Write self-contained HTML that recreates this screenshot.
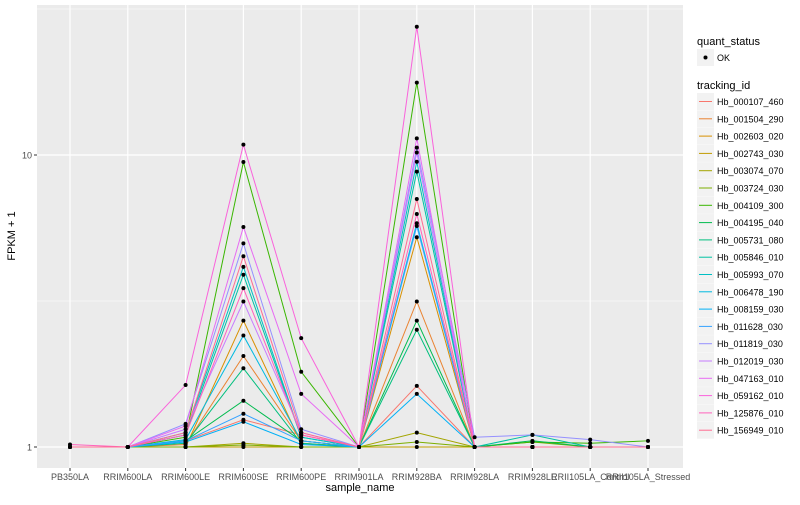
<!DOCTYPE html>
<html><head><meta charset="utf-8"><style>
body{margin:0;background:#fff;font-family:"Liberation Sans",sans-serif;}
svg text{font-family:"Liberation Sans",sans-serif;}
</style></head><body>
<svg id="chart" width="800" height="500" xmlns="http://www.w3.org/2000/svg"></svg>
<script>
const categories=["PB350LA","RRIM600LA","RRIM600LE","RRIM600SE","RRIM600PE","RRIM901LA","RRIM928BA","RRIM928LA","RRIM928LE","RRII105LA_Control","RRII105LA_Stressed"];
const seriesNames=["Hb_000107_460","Hb_001504_290","Hb_002603_020","Hb_002743_030","Hb_003074_070","Hb_003724_030","Hb_004109_300","Hb_004195_040","Hb_005731_080","Hb_005846_010","Hb_005993_070","Hb_006478_190","Hb_008159_030","Hb_011628_030","Hb_011819_030","Hb_012019_030","Hb_047163_010","Hb_059162_010","Hb_125876_010","Hb_156949_010"];
const seriesColors=["#F8766D","#EA8331","#D89000","#C09B00","#A3A500","#7CAE00","#39B600","#00BB4E","#00BF7D","#00C1A3","#00BFC4","#00BAE0","#00B0F6","#35A2FF","#9590FF","#C77CFF","#E76BF3","#FA62DB","#FF62BC","#FF6C91"];
const s000107=[1.0,1.0,1.05,1.24,1.1,1.0,1.62,1.0,1.0,1.0,1.0];
const s001504=[1.0,1.0,1.02,2.05,1.05,1.0,3.15,1.0,1.0,1.0,1.0];
const s002603=[1.0,1.0,1.0,2.71,1.03,1.0,5.23,1.0,1.0,1.0,1.0];
const s002743=[1.0,1.0,1.0,1.0,1.0,1.0,1.0,1.0,1.0,1.0,1.0];
const s003074=[1.0,1.0,1.0,1.03,1.0,1.0,1.12,1.0,1.0,1.0,1.0];
const s003724=[1.0,1.0,1.0,1.016,1.0,1.0,1.04,1.0,1.04,1.0,1.0];
const s004109=[1.0,1.0,1.08,9.46,1.81,1.0,17.7,1.0,1.04,1.03,1.05];
const s004195=[1.0,1.0,1.05,1.44,1.05,1.0,2.71,1.0,1.05,1.0,1.0];
const s005731=[1.0,1.0,1.03,1.86,1.03,1.0,2.52,1.0,1.0,1.0,1.0];
const s005846=[1.0,1.0,1.1,3.89,1.08,1.0,8.77,1.0,1.1,1.0,1.0];
const s005993=[1.0,1.0,1.12,4.14,1.08,1.0,9.48,1.0,1.0,1.0,1.0];
const s006478=[1.0,1.0,1.06,2.41,1.05,1.0,5.84,1.0,1.0,1.0,1.0];
const s008159=[1.0,1.0,1.04,1.22,1.02,1.0,1.52,1.0,1.0,1.0,1.0];
const s011628=[1.0,1.0,1.05,1.3,1.05,1.0,5.71,1.0,1.0,1.0,1.0];
const s011819=[1.0,1.0,1.2,4.98,1.15,1.0,10.6,1.08,1.1,1.06,1.0];
const s012019=[1.0,1.0,1.15,3.15,1.12,1.0,10.2,1.0,1.0,1.0,1.0];
const s047163=[1.0,1.0,1.18,5.67,1.52,1.0,11.4,1.0,1.0,1.0,1.0];
const s059162=[1.0,1.0,1.63,10.85,2.36,1.0,27.5,1.0,1.0,1.0,1.0];
const s125876=[1.02,1.0,1.1,3.5,1.1,1.0,6.28,1.0,1.0,1.0,1.0];
const s156949=[1.0,1.0,1.12,4.5,1.12,1.0,7.07,1.0,1.0,1.0,1.0];
const seriesValues=[s000107,s001504,s002603,s002743,s003074,s003724,s004109,s004195,s005731,s005846,s005993,s006478,s008159,s011628,s011819,s012019,s047163,s059162,s125876,s156949];
const yTickValues=[1,10];
const yTickLabels=["1","10"];

const NS="http://www.w3.org/2000/svg";
const svg=document.getElementById('chart');
const P={l:37,r:683,t:5,b:468};
function xScale(i){return 70+i*57.8;}
function yScale(v){return 447-Math.log10(v)*292;}
function el(tag,attrs,parent){const e=document.createElementNS(NS,tag);for(const k in attrs)e.setAttribute(k,attrs[k]);(parent||svg).appendChild(e);return e;}

const panel=el('rect',{x:P.l,y:P.t,width:P.r-P.l,height:P.b-P.t,fill:'#EBEBEB'});


// minor grid
[Math.sqrt(10),Math.sqrt(10)*10].forEach(v=>{const g=el('line',{x1:P.l,x2:P.r,y1:yScale(v),y2:yScale(v),stroke:'#fff','stroke-width':0.6});

});
yTickValues.forEach((v,i)=>{const y=yScale(v);
const g=el('line',{x1:P.l,x2:P.r,y1:y,y2:y,stroke:'#fff','stroke-width':1.2});


el('line',{x1:P.l-3,x2:P.l,y1:y,y2:y,stroke:'#333','stroke-width':1});
const t=el('text',{x:P.l-5,y:y+3.5,'text-anchor':'end','font-size':9,fill:'#4D4D4D'});t.textContent=yTickLabels[i];

});
categories.forEach((c,i)=>{const x=xScale(i);
const g=el('line',{x1:x,x2:x,y1:P.t,y2:P.b,stroke:'#fff','stroke-width':1.2});


el('line',{x1:x,x2:x,y1:P.b,y2:P.b+3,stroke:'#333','stroke-width':1});
const t=el('text',{x:x,y:P.b+12,'text-anchor':'middle','font-size':9,fill:'#4D4D4D'});t.textContent=c;

});
seriesValues.forEach((vals,s)=>{
const pts=vals.map((v,i)=>xScale(i)+','+yScale(v)).join(' ');
const pl=el('polyline',{points:pts,fill:'none',stroke:seriesColors[s],'stroke-width':1});

});
seriesValues.forEach((vals,s)=>{vals.forEach((v,i)=>{
const c=el('circle',{cx:xScale(i),cy:yScale(v),r:2,fill:'#000'});

});});
let t=el('text',{x:360,y:491,'text-anchor':'middle','font-size':11,fill:'#000'});t.textContent='sample_name';


t=el('text',{x:0,y:0,'text-anchor':'middle','font-size':11,fill:'#000',transform:'translate(15,236) rotate(-90)'});t.textContent='FPKM + 1';


// legend
t=el('text',{x:697,y:45,'font-size':11,fill:'#000'});t.textContent='quant_status';


el('rect',{x:697,y:49,width:17,height:17,fill:'#F2F2F2'});
el('circle',{cx:705.5,cy:57.5,r:2,fill:'#000'});
t=el('text',{x:717,y:61,'font-size':9,fill:'#000'});t.textContent='OK';


t=el('text',{x:697,y:89,'font-size':11,fill:'#000'});t.textContent='tracking_id';


seriesNames.forEach((n,s)=>{const y=93+s*17.3;
const g=el('g',{});


el('rect',{x:697,y:y,width:17,height:17,fill:'#F2F2F2'},g);
el('line',{x1:699,x2:712,y1:y+8.5,y2:y+8.5,stroke:seriesColors[s],'stroke-width':1},g);
const tt=el('text',{x:717,y:y+12,'font-size':9,fill:'#000'},g);tt.textContent=n;});
</script>
</body></html>
